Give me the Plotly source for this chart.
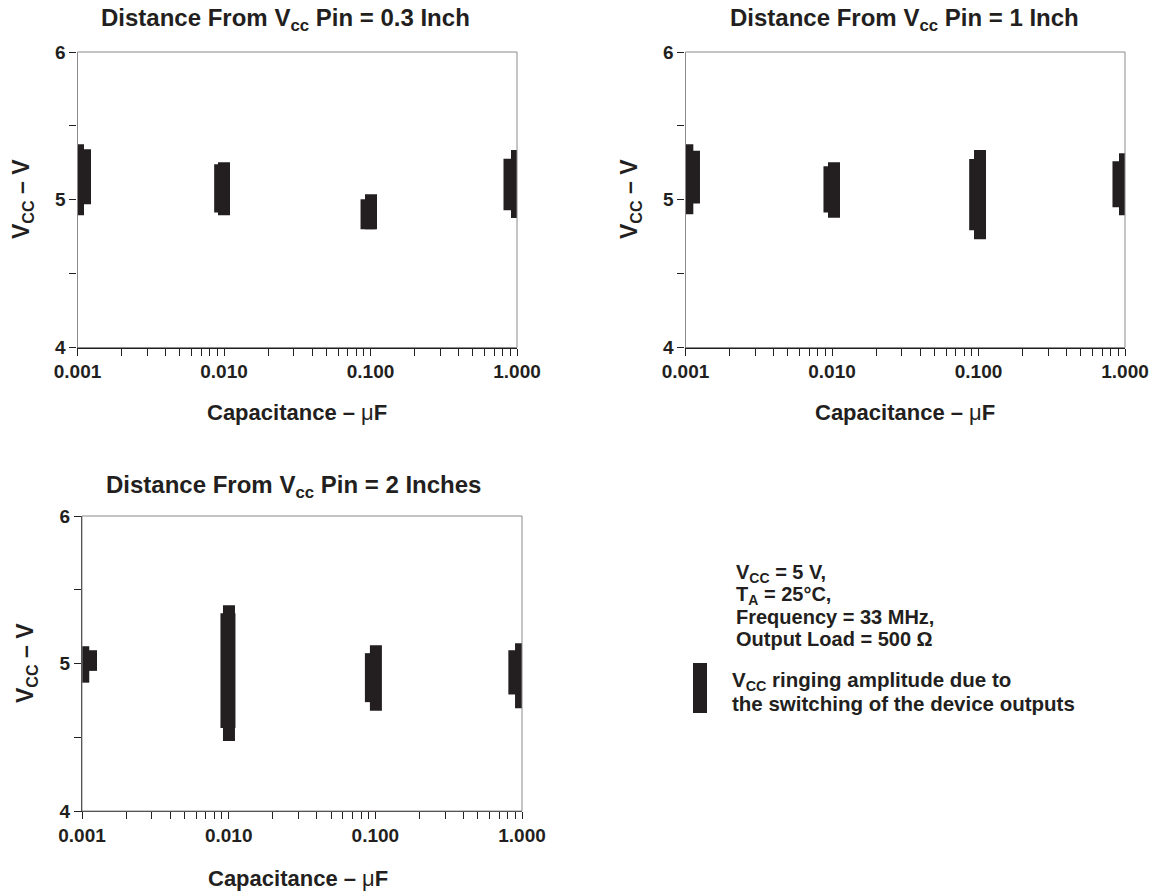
import plotly.graph_objects as go

W, H = 1161, 892
FONT = "Liberation Sans"
INK = "#231f20"

# ---------------- data ----------------
decade_ticks = [0.001, 0.010, 0.100, 1.000]
decade_labels = ["0.001", "0.010", "0.100", "1.000"]
volt_ticks = [4, 4.5, 5, 5.5, 6]
volt_labels = ["4", "", "5", "", "6"]

panel_titles = ["0.3 Inch", "1 Inch", "2 Inches"]

# each ringing band is drawn as two overlapping bars: a narrow/tall one (a) and a wide one (b)
# panel 1 : 0.3 inch
p1_a_x = [0.001008, 0.0100, 0.1008, 1.000]
p1_a_lo = [4.895, 4.895, 4.800, 4.877]
p1_a_hi = [5.376, 5.254, 5.037, 5.336]
p1_b_x = [0.001099, 0.00964, 0.0962, 0.910]
p1_b_lo = [4.969, 4.913, 4.800, 4.929]
p1_b_hi = [5.342, 5.241, 5.003, 5.277]
# panel 2 : 1 inch
p2_a_x = [0.001029, 0.01032, 0.1024, 1.000]
p2_a_lo = [4.902, 4.879, 4.732, 4.895]
p2_a_hi = [5.376, 5.254, 5.336, 5.315]
p2_b_x = [0.001116, 0.00984, 0.0972, 0.924]
p2_b_lo = [4.974, 4.913, 4.793, 4.949]
p2_b_hi = [5.331, 5.227, 5.275, 5.261]
# panel 3 : 2 inches
p3_a_x = [0.001020, 0.01005, 0.1009, 0.985]
p3_a_lo = [4.870, 4.475, 4.679, 4.697]
p3_a_hi = [5.117, 5.395, 5.124, 5.137]
p3_b_x = [0.001125, 0.00989, 0.0955, 0.908]
p3_b_lo = [4.950, 4.563, 4.738, 4.790]
p3_b_hi = [5.090, 5.341, 5.070, 5.090]

panels = [
    (p1_a_x, p1_a_lo, p1_a_hi, p1_b_x, p1_b_lo, p1_b_hi),
    (p2_a_x, p2_a_lo, p2_a_hi, p2_b_x, p2_b_lo, p2_b_hi),
    (p3_a_x, p3_a_lo, p3_a_hi, p3_b_x, p3_b_lo, p3_b_hi),
]

# ---------------- layout geometry (pixels) ----------------
# (left, right, top, bottom) of each plot area
boxes = [(77.5, 517, 52, 347.5), (685.5, 1125, 52, 347.5), (82, 522, 516, 811)]
title_pos = [(285, 20), (904, 20), (293, 487)]
xtitle_pos = [(297, 412), (905, 412), (298, 878)]
ytitle_pos = [(22, 199), (630, 199), (26, 663)]
A_WIDTH = 12
B_WIDTH = 15

fig = go.Figure()

minor = []
for d in decade_ticks[:-1]:
    for k in range(1, 10):
        minor.append(d * k)
minor.append(1.0)
minor_text = [f"<b>{decade_labels[decade_ticks.index(v)]}</b>" if v in decade_ticks else ""
              for v in minor]
volt_text = [f"<b>{s}</b>" if s else "" for s in volt_labels]

def px2x(p):
    return p / W

def py2y(p):
    return 1 - p / H

for i, (ax_, alo, ahi, bx, blo, bhi) in enumerate(panels):
    n = i + 1
    xa = "x" if n == 1 else f"x{n}"
    ya = "y" if n == 1 else f"y{n}"
    for xs, lo, hi, wdt in ((ax_, alo, ahi, A_WIDTH), (bx, blo, bhi, B_WIDTH)):
        xx, yy = [], []
        for x, l, h in zip(xs, lo, hi):
            xx += [x, x, None]
            yy += [l, h, None]
        fig.add_trace(go.Scatter(x=xx, y=yy, mode="lines", xaxis=xa, yaxis=ya,
                                 line=dict(color=INK, width=wdt), hoverinfo="skip",
                                 showlegend=False))
    l, r, t, b = boxes[i]
    common_ax = dict(showgrid=False, zeroline=False, ticks="outside", ticklen=7,
                     tickwidth=1, tickcolor=INK, showline=True, linecolor=INK, linewidth=1.2,
                     automargin=False,
                     tickfont=dict(family=FONT, size=19, color=INK))
    fig.layout[f"xaxis{'' if n == 1 else n}"] = dict(
        common_ax, type="log", range=[-3, 0], domain=[px2x(l), px2x(r)],
        anchor=ya, tickvals=minor, ticktext=minor_text)
    fig.layout[f"yaxis{'' if n == 1 else n}"] = dict(
        common_ax, range=[4, 6], domain=[py2y(b), py2y(t)],
        anchor=xa, tickvals=volt_ticks, ticktext=volt_text)
    # frame (top/right)
    fig.add_shape(type="rect", xref=f"{xa} domain", yref=f"{ya} domain",
                  x0=0, x1=1, y0=0, y1=1, line=dict(color="#8a8a8a", width=1),
                  layer="above")
    tx, ty = title_pos[i]
    fig.add_annotation(text=f"<b>Distance From V<sub>cc</sub> Pin = {panel_titles[i]}</b>",
                       xref="paper", yref="paper", x=px2x(tx), y=py2y(ty),
                       showarrow=False, font=dict(family=FONT, size=24, color=INK),
                       xanchor="center", yanchor="middle")
    tx, ty = xtitle_pos[i]
    fig.add_annotation(text="<b>Capacitance – </b>μ<b>F</b>",
                       xref="paper", yref="paper", x=px2x(tx), y=py2y(ty),
                       showarrow=False, font=dict(family=FONT, size=22, color=INK),
                       xanchor="center", yanchor="middle")
    tx, ty = ytitle_pos[i]
    fig.add_annotation(text="<b>V<sub>CC</sub> – V</b>",
                       xref="paper", yref="paper", x=px2x(tx), y=py2y(ty),
                       showarrow=False, textangle=-90, font=dict(family=FONT, size=23, color=INK),
                       xanchor="center", yanchor="middle")

# conditions text block
cond_lines = ["V<sub>CC</sub> = 5 V,", "T<sub>A</sub> = 25°C,", "Frequency = 33 MHz,",
              "Output Load = 500 Ω"]
for k, s in enumerate(cond_lines):
    fig.add_annotation(text=f"<b>{s}</b>", xref="paper", yref="paper",
                       x=px2x(734), y=py2y(573 + 22 * k), showarrow=False,
                       xanchor="left", yanchor="middle",
                       font=dict(family=FONT, size=20, color=INK))

legend_lines = ["V<sub>CC</sub> ringing amplitude due to", "the switching of the device outputs"]
for k, s in enumerate(legend_lines):
    fig.add_annotation(text=f"<b>{s}</b>", xref="paper", yref="paper",
                       x=px2x(730), y=py2y(681 + 22 * k), showarrow=False,
                       xanchor="left", yanchor="middle",
                       font=dict(family=FONT, size=20.5, color=INK))
fig.add_shape(type="rect", xref="paper", yref="paper", x0=px2x(693), x1=px2x(707),
              y0=py2y(713), y1=py2y(663), fillcolor=INK, line=dict(width=0))

fig.update_layout(width=W, height=H, margin=dict(l=0, r=0, t=0, b=0, autoexpand=False),
                  paper_bgcolor="white", plot_bgcolor="white", showlegend=False)

fig.write_html("out.html", config={"displayModeBar": False},
               post_script="document.body.style.margin='0';")
